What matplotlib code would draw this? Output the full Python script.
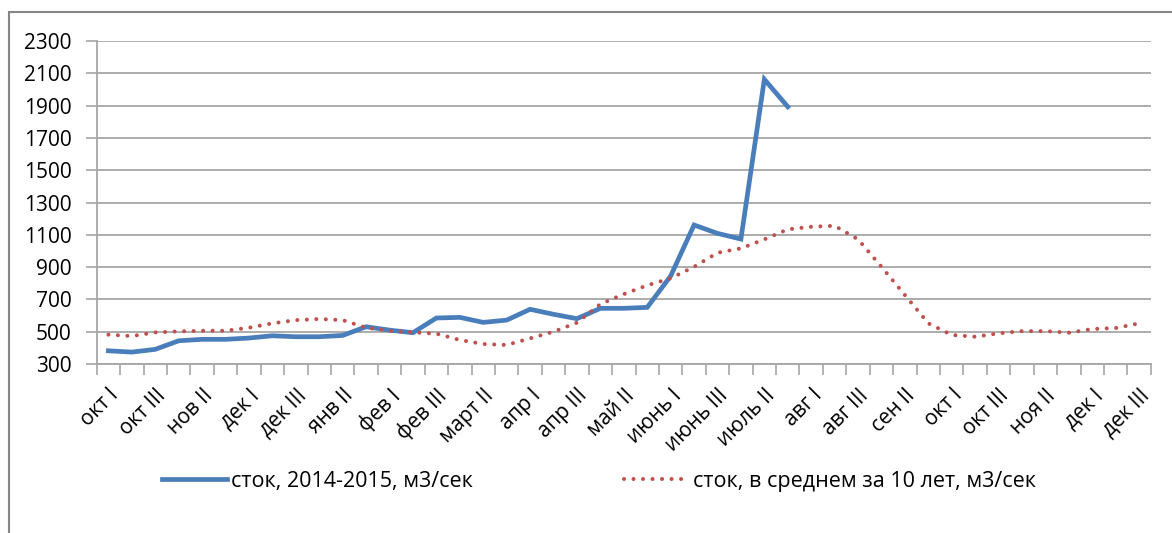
import matplotlib.pyplot as plt
from matplotlib.patches import Rectangle
from matplotlib.transforms import ScaledTranslation

plt.rcParams['font.family'] = ['Open Sans', 'DejaVu Sans']

# decades: Oct of one year through Dec of the next
periods = ['окт I', 'окт II', 'окт III', 'нов I', 'нов II', 'нов III',
           'дек I', 'дек II', 'дек III', 'янв I', 'янв II', 'янв III',
           'фев I', 'фев II', 'фев III', 'март I', 'март II', 'март III',
           'апр I', 'апр II', 'апр III', 'май I', 'май II', 'май III',
           'июнь I', 'июнь II', 'июнь III', 'июль I', 'июль II', 'июль III',
           'авг I', 'авг II', 'авг III', 'сен I', 'сен II', 'сен III',
           'окт I', 'окт II', 'окт III', 'ноя I', 'ноя II', 'ноя III',
           'дек I', 'дек II', 'дек III']

flow_2014_2015 = [382, 374, 391, 444, 453, 453, 461, 475, 469, 469,
                  477, 531, 510, 494, 585, 589, 558, 572, 639, 608,
                  581, 645, 645, 651, 845, 1161, 1109, 1074, 2063, 1893]

flow_10yr_avg = [482, 473, 496, 502, 506, 506, 525, 552, 572, 579,
                 572, 525, 506, 496, 488, 449, 424, 418, 459, 500,
                 556, 671, 733, 787, 831, 902, 989, 1016, 1072, 1134,
                 1150, 1156, 1072, 902, 727, 552, 480, 469, 490, 504,
                 504, 494, 517, 523, 552]

blue = '#4a7ebb'
red = '#c0504d'
grid = '#a6a6a6'

fig = plt.figure(figsize=(11.72, 5.33), dpi=100)
ax = fig.add_axes([0.0825, 0.317, 0.8995, 0.606])

ax.plot(range(len(flow_2014_2015)), flow_2014_2015, color=blue, lw=3.4,
        solid_joinstyle='miter', label='сток, 2014-2015, м3/сек')
ax.plot(range(len(flow_10yr_avg)), flow_10yr_avg, color=red, lw=2.9,
        linestyle=(0, (0.01, 2.35)), dash_capstyle='round',
        label='сток, в среднем за 10 лет, м3/сек')

ax.set_xlim(-0.5, len(periods) - 0.5)
ax.set_ylim(300, 2300)
ax.set_yticks(range(300, 2301, 200))
ax.yaxis.grid(True, color=grid, lw=1.3)
ax.set_axisbelow(True)

# tick marks between categories, labels on every second category
ax.set_xticks([i - 0.5 for i in range(len(periods) + 1)])
ax.set_xticklabels([])
ax.set_xticks(range(0, len(periods), 2), minor=True)
ax.set_xticklabels(periods[::2], minor=True, rotation=45,
                   ha='right', va='top', rotation_mode='anchor', fontsize=15)
shift = ScaledTranslation(6 / 100, 0, fig.dpi_scale_trans)
for lab in ax.get_xticklabels(minor=True):
    lab.set_transform(lab.get_transform() + shift)
ax.tick_params(axis='x', which='major', length=8, color=grid, width=1.2)
ax.tick_params(axis='x', which='minor', length=0, pad=15)
ax.tick_params(axis='y', length=8, color=grid, width=1.2, pad=10,
               labelsize=15)

for s in ['top', 'right']:
    ax.spines[s].set_visible(False)
for s in ['left', 'bottom']:
    ax.spines[s].set_color(grid)
    ax.spines[s].set_linewidth(1.3)

fig.legend(loc='center', bbox_to_anchor=(0.511, 1 - 481 / 533), ncol=2,
           frameon=False, fontsize=15.5, handlelength=3.0,
           handletextpad=0.2, columnspacing=7)

fig.patches.append(Rectangle((9 / 1172, -0.1), 1.2, 1.1 - 12 / 533,
                             transform=fig.transFigure, fill=False,
                             edgecolor='#868686', lw=1.5))

fig.savefig('out.png', dpi=100)
